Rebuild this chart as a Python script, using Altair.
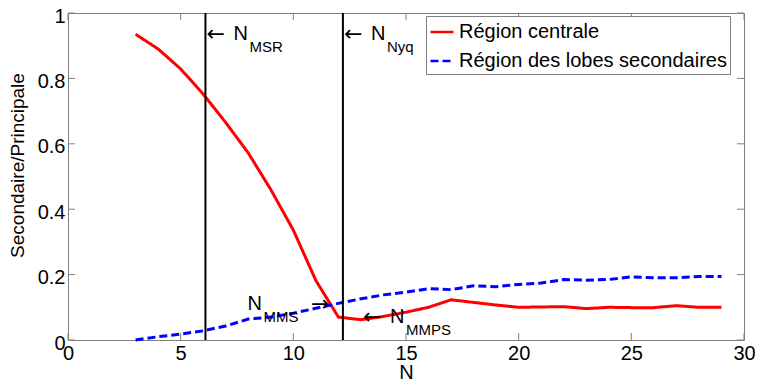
import altair as alt
import pandas as pd

# ---------------- data ----------------
N_VALUES = list(range(3, 30))
CENTRAL = [0.935, 0.890, 0.829, 0.752, 0.665, 0.572, 0.460, 0.336, 0.182, 0.070,
           0.062, 0.072, 0.085, 0.100, 0.123, 0.115, 0.107, 0.100, 0.101, 0.102,
           0.096, 0.100, 0.099, 0.099, 0.105, 0.100, 0.100]
SIDELOBE = [0.000, 0.010, 0.018, 0.028, 0.043, 0.064, 0.070, 0.082, 0.097, 0.112,
            0.126, 0.138, 0.146, 0.157, 0.154, 0.166, 0.163, 0.170, 0.174, 0.185,
            0.183, 0.185, 0.193, 0.190, 0.190, 0.194, 0.194]
SERIES_NAMES = ["Région centrale", "Région des lobes secondaires"]
SERIES_COLORS = ["#ff0000", "#0000ff"]

X_TICKS = [0, 5, 10, 15, 20, 25, 30]
Y_TICKS = [0, 0.2, 0.4, 0.6, 0.8, 1]
VLINES = [6.1, 12.2]

# annotations whose arrow points left (arrow tip at the given point)
ANN_LEFT_SUB = ["MSR", "Nyq", "MMPS"]
ANN_LEFT_N = [6.1, 12.2, 13.05]
ANN_LEFT_R = [0.935, 0.935, 0.069]
# annotations whose arrow points right
ANN_RIGHT_SUB = ["MMS"]
ANN_RIGHT_N = [11.6]
ANN_RIGHT_R = [0.110]

# ---------------- chart ----------------
W, H = 676, 327
FONT = "Liberation Sans"
GREY = "#808080"

xs = alt.Scale(domain=[0, 30], nice=False, zero=False)
ys = alt.Scale(domain=[0, 1], nice=False, zero=False)
X_AXIS = alt.Axis(values=X_TICKS, title="N", labelFlush=False,
                  labelPadding=3, titleY=38, titleBaseline="alphabetic", format="~g")
Y_AXIS = alt.Axis(values=Y_TICKS, title="Secondaire/Principale",
                  format="~g", labelPadding=3, labelOffset=3, titlePadding=10,
                  titleFontSize=19, titleY=152)


def X():
    return alt.X("N:Q", scale=xs, axis=X_AXIS, title="N")


def Y():
    return alt.Y("ratio:Q", scale=ys, axis=Y_AXIS, title="Secondaire/Principale")


n = len(N_VALUES)
lines_df = pd.DataFrame({
    "N": N_VALUES + N_VALUES,
    "ratio": CENTRAL + SIDELOBE,
    "serie": [SERIES_NAMES[0]] * n + [SERIES_NAMES[1]] * n,
})

legend = alt.Legend(
    title=None, orient="none", legendX=358, legendY=3,
    labelFont=FONT, labelFontSize=20, labelColor="black", labelLimit=500,
    labelOffset=4, symbolType="stroke", symbolSize=529, symbolStrokeWidth=2.5,
    strokeColor=GREY, fillColor="white", padding=3, rowPadding=6,
)

lines = alt.Chart(lines_df).mark_line(strokeWidth=3).encode(
    x=X(), y=Y(),
    color=alt.Color("serie:N", scale=alt.Scale(domain=SERIES_NAMES, range=SERIES_COLORS),
                    legend=legend),
    strokeDash=alt.StrokeDash("serie:N",
                              scale=alt.Scale(domain=SERIES_NAMES, range=[[1, 0], [8, 4]]),
                              legend=legend),
)

vl = alt.Chart(pd.DataFrame({"N": VLINES})).mark_rule(color="black", strokeWidth=2).encode(
    x=X(), y=alt.value(0), y2=alt.value(H),
)

xt_df = pd.DataFrame({"N": X_TICKS})
yt_df = pd.DataFrame({"ratio": Y_TICKS})
tick_style = dict(color=GREY, strokeWidth=1)
xt_bottom = alt.Chart(xt_df).mark_rule(**tick_style).encode(
    x=X(), y=alt.value(H), y2=alt.value(H - 7))
xt_top = alt.Chart(xt_df).mark_rule(**tick_style).encode(
    x=X(), y=alt.value(0), y2=alt.value(7))
yt_left = alt.Chart(yt_df).mark_rule(**tick_style).encode(
    y=Y(), x=alt.value(0), x2=alt.value(7))
yt_right = alt.Chart(yt_df).mark_rule(**tick_style).encode(
    y=Y(), x=alt.value(W), x2=alt.value(W - 7))

left_df = pd.DataFrame({"N": ANN_LEFT_N, "ratio": ANN_LEFT_R, "sub": ANN_LEFT_SUB})
right_df = pd.DataFrame({"N": ANN_RIGHT_N, "ratio": ANN_RIGHT_R, "sub": ANN_RIGHT_SUB})


def txt(df, text, dx, dy, size, align, font=FONT, field=False):
    mark = alt.Chart(df).mark_text(font=font, fontSize=size, color="black", align=align,
                                   baseline="middle", dx=dx, dy=dy)
    enc = dict(x=X(), y=Y())
    if field:
        enc["text"] = alt.Text("sub:N")
    else:
        enc["text"] = alt.value(text)
    return mark.encode(**enc)


ARROW_FONT = "DejaVu Sans"
ann = [
    txt(left_df, "←", 1, 0, 22, "left", font=ARROW_FONT),
    txt(left_df, "N", 28, 0, 20, "left"),
    txt(left_df, None, 44, 13, 15, "left", field=True),
    txt(right_df, "→", 0, 0, 22, "right", font=ARROW_FONT),
    txt(right_df, "N", -82, 0, 20, "left"),
    txt(right_df, None, -66, 13, 15, "left", field=True),
]

chart = alt.layer(lines, vl, xt_bottom, xt_top, yt_left, yt_right, *ann).properties(
    width=W, height=H,
    padding={"left": 60, "top": 5, "right": 11, "bottom": 41},
    autosize=alt.AutoSizeParams(type="none"),
).configure_view(
    stroke=GREY, strokeWidth=1
).configure_axis(
    domain=False, ticks=False, grid=False,
    labelFont=FONT, labelFontSize=20, labelColor="black",
    titleFont=FONT, titleFontSize=20, titleColor="black", titleFontWeight="normal",
)

chart.save("out.html", embed_options={"renderer": "svg", "actions": False})
